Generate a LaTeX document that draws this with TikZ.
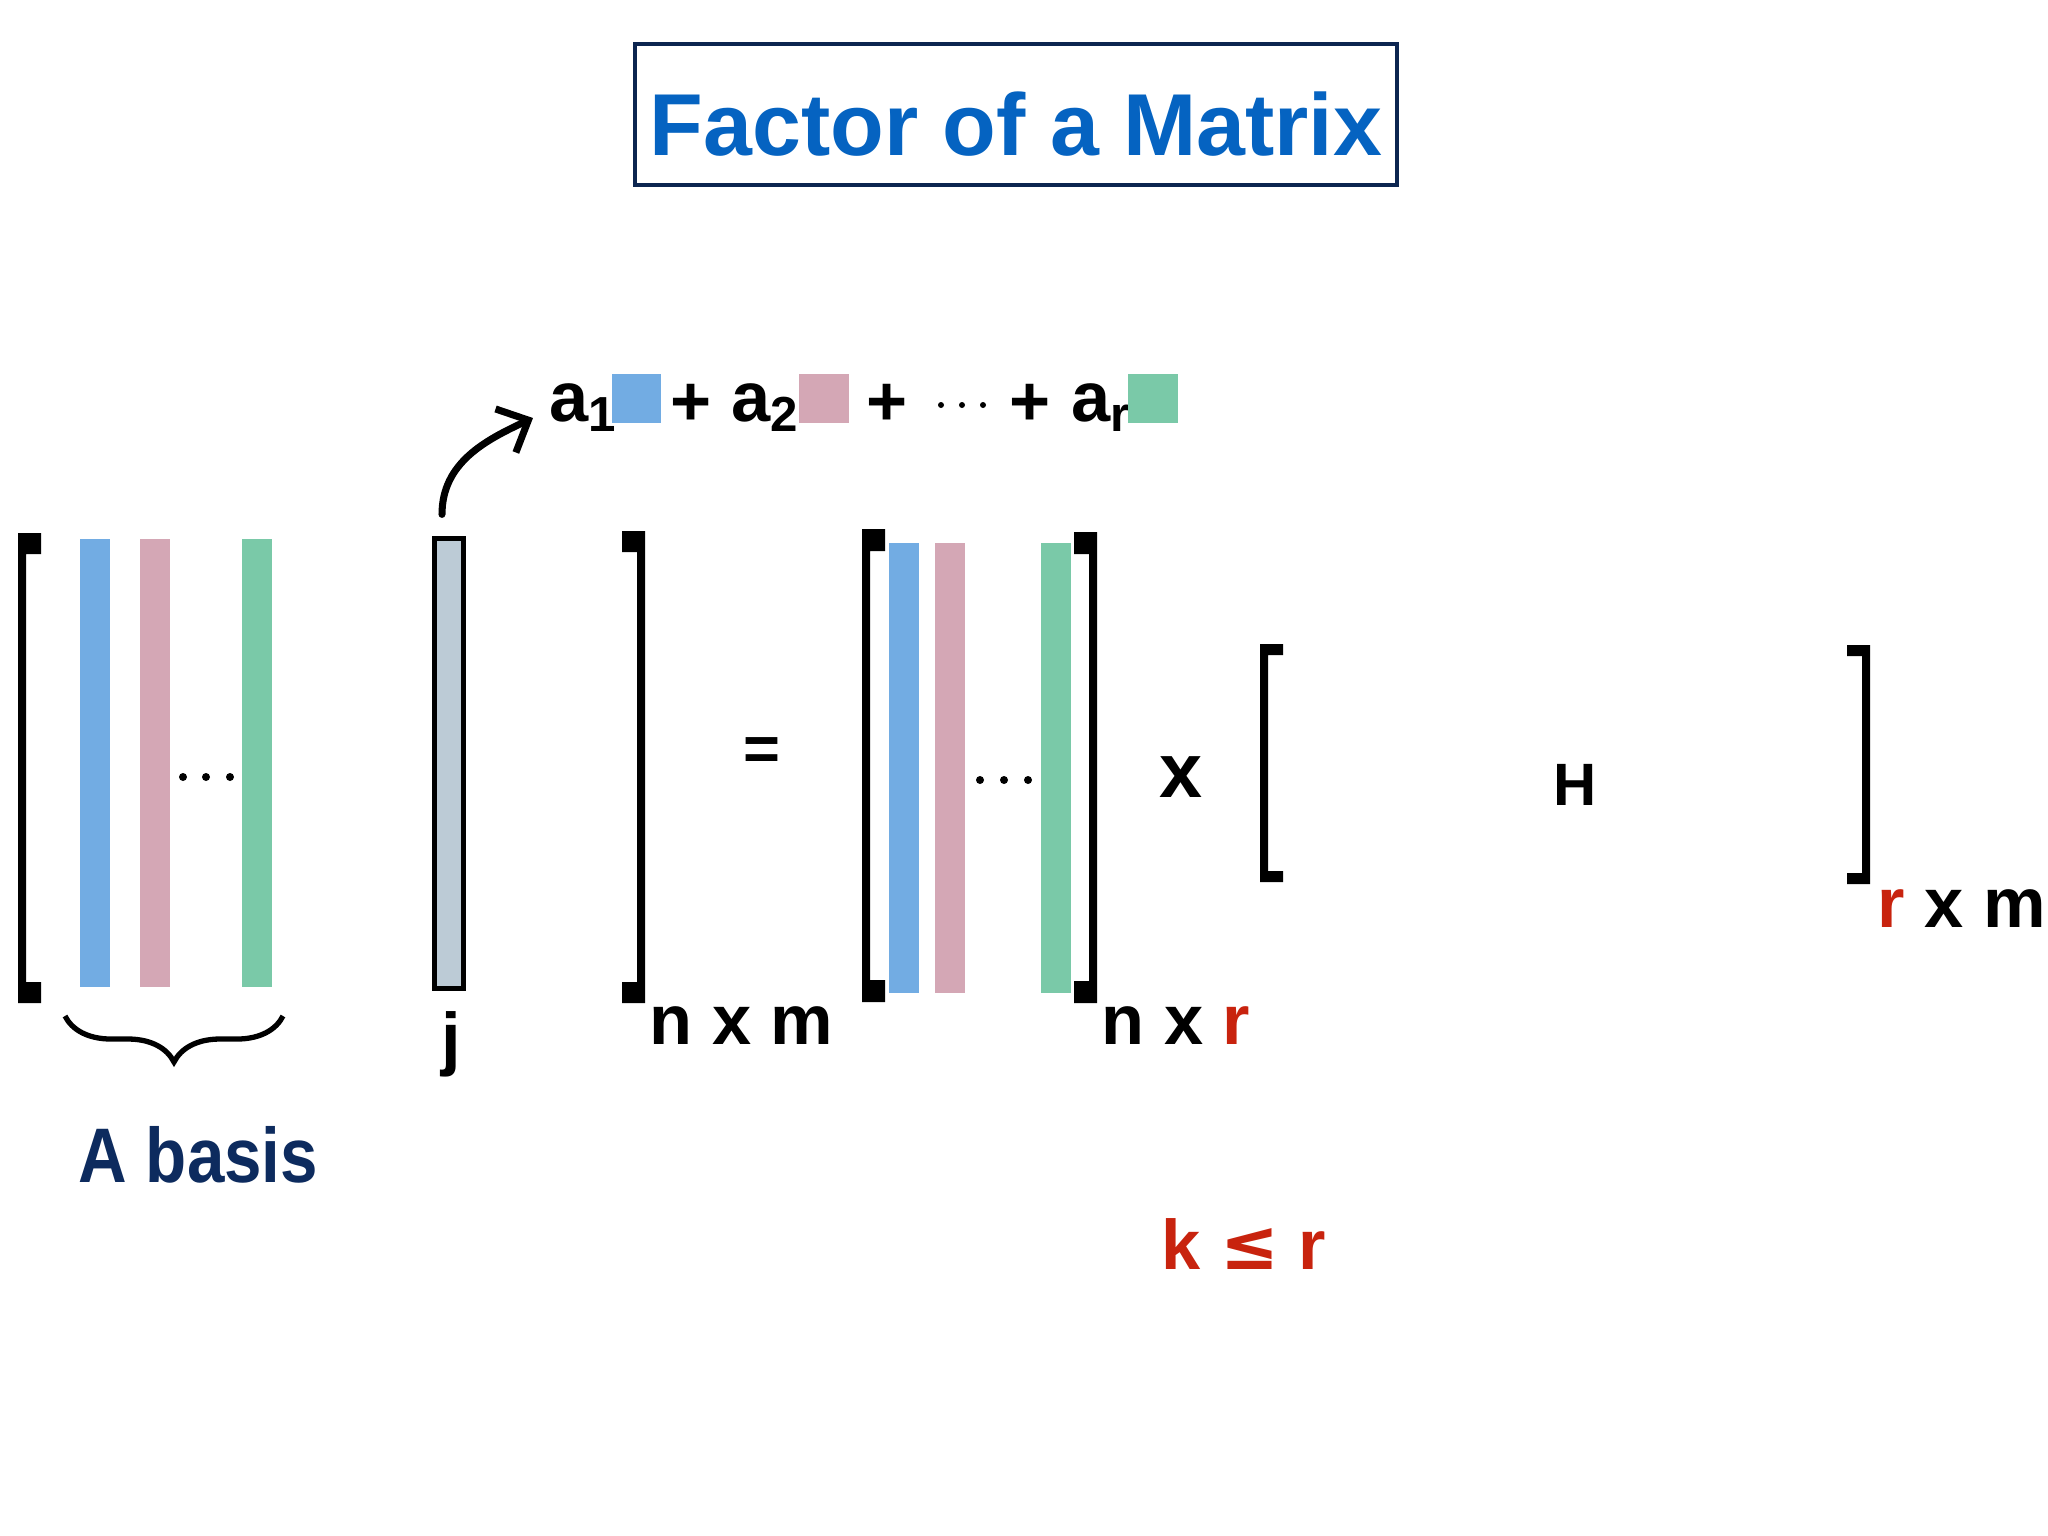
\documentclass[tikz,border=0pt]{standalone}
\usepackage{fontspec}
\setmainfont{Liberation Sans}
\newfontfamily\symfont{DejaVu Sans}
\usetikzlibrary{arrows.meta, positioning, calc, decorations.pathreplacing}

\definecolor{titleblue}{HTML}{0563C1}
\definecolor{titlenavy}{HTML}{0C2550}
\definecolor{basisnavy}{HTML}{0D2B5E}
\definecolor{colblue}{HTML}{72ACE3}
\definecolor{colpink}{HTML}{D4A7B5}
\definecolor{colgreen}{HTML}{7AC9A8}
\definecolor{colgray}{HTML}{BCCBD6}
\definecolor{dimred}{HTML}{C8230E}

% square brackets of a matrix: x, top, bottom, tab height
\newcommand{\matlbr}[4]{%
  \fill (#1,#2) -- (#1+23,#2) -- (#1+23,#2+#4) -- (#1+8,#2+#4) -- (#1+8,#3-#4)
    -- (#1+23,#3-#4) -- (#1+23,#3) -- (#1,#3) -- cycle;}
\newcommand{\matrbr}[4]{%
  \fill (#1,#2) -- (#1-23,#2) -- (#1-23,#2+#4) -- (#1-8,#2+#4) -- (#1-8,#3-#4)
    -- (#1-23,#3-#4) -- (#1-23,#3) -- (#1,#3) -- cycle;}

\begin{document}
\begin{tikzpicture}[
  x=0.01cm, y=-0.01cm,
  lbl/.style = {inner sep=0pt, font=\bfseries\fontsize{20}{24}\selectfont},
  colbar/.style = {inner sep=0pt, minimum width=0.3cm, minimum height=4.48cm},
  swatch/.style = {inner sep=0pt, minimum size=0.49cm},
  arrow/.style = {line width=2pt, line cap=round, -{Straight Barb[length=2.5mm, width=4.8mm]}},
  basisbrace/.style = {line width=1.5pt, decorate, decoration={brace, amplitude=0.46cm}}
]
\fill[white] (0,0) rectangle (2048,1536);
\useasboundingbox (0,0) rectangle (2048,1536);

% Title
\node[draw=titlenavy, line width=1.2pt, minimum width=7.62cm, minimum height=1.41cm] (title) at (1016,114.5) {};
\node[text=titleblue, inner sep=0pt, font=\bfseries\fontsize{25}{30}\selectfont] (titletext) at (1016,124) {Factor of a Matrix};

% Left matrix with column j
\matlbr{18}{533}{1003}{21}
\node[colbar, fill=colblue] (ca1) at (95,763) {};
\node[colbar, fill=colpink] (ca2) at (155,763) {};
\node[colbar, fill=colgreen] (ca3) at (257,763) {};
\foreach \x in {183,206,230} \fill (\x,777) circle[radius=0.04cm];
\node[colbar, draw, line width=1.4pt, fill=colgray, minimum width=0.29cm, minimum height=4.49cm] (colj) at (449,763.5) {};
\matrbr{645}{531}{1003}{21}
\node[lbl, anchor=base west] (dimA) at (649,1044) {n x m};
\node[lbl, anchor=base] (jlbl) at (451,1062) {j};

% Brace under the basis columns
\draw[basisbrace] (283,1016) -- (65,1016);
\node[lbl, text=basisnavy, font=\bfseries\fontsize{22}{26}\selectfont, anchor=base west] (basis) at (78,1182) {\scalebox{0.87}[1]{A basis}};

% Linear combination
\node[lbl, anchor=base west] (a1) at (549,421) {a\textsubscript{1}};
\node[swatch, fill=colblue] (s1) at (636.5,398.5) {};
\node[lbl] (p1) at (691,405) {+};
\node[lbl, anchor=base west] (a2) at (731,421) {a\textsubscript{2}};
\node[swatch, fill=colpink] (s2) at (824,398.5) {};
\node[lbl] (p2) at (887,405) {+};
\foreach \x in {941,962,983} \fill (\x,405) circle[radius=0.03cm];
\node[lbl] (p3) at (1030,405) {+};
\node[lbl, anchor=base west] (ar) at (1071,421) {a\textsubscript{r}};
\node[swatch, fill=colgreen] (s3) at (1153,398.5) {};

% Arrow from column j to the sum
\draw[arrow] (colj.north) ++(-7,-22) to[out=90, in=205] ([xshift=-0.16cm, yshift=0.03cm]a1.base west);

% Equals sign
\node[lbl, font=\bfseries\fontsize{18}{22}\selectfont] (eq) at (762,754) {=};

% Middle matrix
\matlbr{862}{529}{1002}{22}
\node[colbar, fill=colblue, minimum height=4.5cm] (cw1) at (904,768) {};
\node[colbar, fill=colpink, minimum height=4.5cm] (cw2) at (950,768) {};
\node[colbar, fill=colgreen, minimum height=4.5cm] (cw3) at (1055.5,768) {};
\foreach \x in {980,1004,1028} \fill (\x,780) circle[radius=0.04cm];
\matrbr{1097}{532}{1003}{22}
\node[lbl, anchor=base west] (dimW) at (1101,1044) {n x \textcolor{dimred}{r}};

% Times sign
\node[lbl, font=\bfseries\fontsize{22}{26}\selectfont] (times) at (1181,777) {x};

% Matrix H
\matlbr{1260}{644}{882}{11}
\node[lbl, font=\bfseries\fontsize{17}{20}\selectfont] (hmat) at (1575,785) {H};
\matrbr{1870}{645}{884}{11}
\node[lbl, anchor=base west] (dimH) at (1877,927) {\textcolor{dimred}{r} x m};

% Rank condition
\node[lbl, text=dimred, font=\bfseries\fontsize{20}{24}\selectfont, anchor=base west] (rank) at (1161,1269) {k {\symfont\bfseries ≤} r};

\end{tikzpicture}
\end{document}
